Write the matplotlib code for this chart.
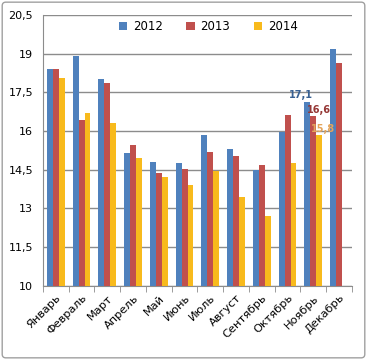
import numpy as np
import matplotlib.pyplot as plt
from matplotlib.patches import FancyBboxPatch

months = ['Январь', 'Февраль', 'Март', 'Апрель', 'Май', 'Июнь',
          'Июль', 'Август', 'Сентябрь', 'Октябрь', 'Ноябрь', 'Декабрь']
v2012 = [18.42, 18.93, 18.01, 15.14, 14.80, 14.76, 15.85, 15.30, 14.51, 15.96, 17.12, 19.20]
v2013 = [18.42, 16.42, 17.87, 15.46, 14.38, 14.52, 15.19, 15.03, 14.69, 16.62, 16.58, 18.66]
v2014 = [18.05, 16.71, 16.32, 14.97, 14.24, 13.93, 14.46, 13.45, 12.69, 14.76, 15.85, np.nan]
yticks = [10, 11.5, 13, 14.5, 16, 17.5, 19, 20.5]

colors = ['#4F81BD', '#C0504D', '#F8BA1C']

fig = plt.figure(figsize=(3.67, 3.6), dpi=100)
ax = fig.add_axes([0.117, 0.206, 0.842, 0.752])

# outer frame of the chart
fig.patches.append(FancyBboxPatch((0.006, 0.006), 0.988, 0.988,
                                  boxstyle='round,pad=0,rounding_size=0.01',
                                  transform=fig.transFigure, fill=False,
                                  edgecolor='#A0A0A0', linewidth=1.0))

x = np.arange(len(months))
w = 0.23
ax.bar(x - w, v2012, w, color=colors[0], label='2012', zorder=3)
ax.bar(x, v2013, w, color=colors[1], label='2013', zorder=3)
ax.bar(x + w, v2014, w, color=colors[2], label='2014', zorder=3)

ax.set_ylim(10, 20.5)
ax.set_xlim(-0.5, len(months) - 0.5)
ax.set_yticks(yticks)
ax.set_yticklabels([('%g' % t).replace('.', ',') for t in yticks], fontsize=8)
ax.grid(axis='y', color='#8C8C8C', linewidth=1.0, zorder=0)

ax.set_xticks(x)
ax.set_xticklabels(months, rotation=45, ha='right', va='top', fontsize=8.2,
                   rotation_mode='anchor')
ax.set_xticks(np.arange(-0.5, len(months), 1), minor=True)
ax.tick_params(axis='x', which='major', length=0, pad=5)
ax.tick_params(axis='x', which='minor', length=4, color='#8C8C8C')
ax.tick_params(axis='y', length=0, pad=7)

for s in ['top', 'right']:
    ax.spines[s].set_visible(False)
ax.spines['left'].set_color('#8C8C8C')
ax.spines['bottom'].set_color('#8C8C8C')

# data labels for November
ax.text(10 - w - 0.25, v2012[10] + 0.1, '17,1', color='#376092', fontsize=7,
        fontweight='bold', ha='center', va='bottom')
ax.text(10 + 0.2, v2013[10] + 0.05, '16,6', color='#953735', fontsize=7,
        fontweight='bold', ha='center', va='bottom')
ax.text(10 + w + 0.15, v2014[10] + 0.05, '15,8', color='#E4A55C', fontsize=7,
        fontweight='bold', ha='center', va='bottom')

ax.legend(loc='upper center', bbox_to_anchor=(0.535, 1.02), ncol=3, frameon=False,
          fontsize=8.5, handlelength=0.7, handleheight=0.7, columnspacing=2.0,
          handletextpad=0.5)

fig.savefig('out.png', dpi=100)
